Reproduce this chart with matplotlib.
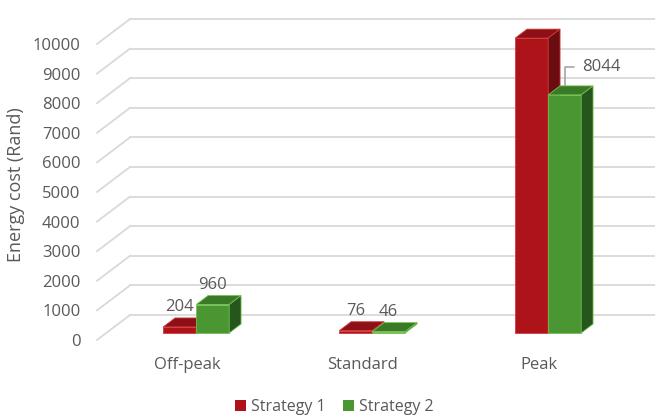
import numpy as np
import matplotlib
matplotlib.use('Agg')
import matplotlib.pyplot as plt
from matplotlib.patches import Polygon, Patch

plt.rcParams['font.family'] = ['Open Sans', 'DejaVu Sans']

# data
categories = ['Off-peak', 'Standard', 'Peak']
strategy1 = [204, 76, 9962]
strategy2 = [960, 46, 8044]
series_names = ['Strategy 1', 'Strategy 2']
yticks = list(range(0, 10001, 1000))

txt_col = '#595959'
grid_col = '#d9d9d9'
# front, top, side, edge
red = ('#ad1319', '#8c1015', '#6b0c10', '#d23a3f')
green = ('#4a9632', '#3a7a27', '#25561c', '#72c24f')

fig = plt.figure(figsize=(6.55, 4.18), dpi=100)
ax = fig.add_axes([97 / 655, 78 / 418, 525 / 655, 296 / 418])
ax.set_xlim(-0.511, 2.472)
ax.set_ylim(0, 10000)

# fake 3d depth, in data units
DX, DY = 0.1875, 845.0
f1, f2 = 0.28, 0.64
w = 0.1875

x0, x1 = ax.get_xlim()
# walls / gridlines
for t in yticks:
    ax.plot([x0, x0 + DX], [t, t + DY], color=grid_col, lw=1.3, clip_on=False, zorder=0)
    ax.plot([x0 + DX, x1 + DX], [t + DY, t + DY], color=grid_col, lw=1.3, clip_on=False, zorder=0)


def draw_bar(xl, v, cols, z):
    front, top, side, edge = cols
    b = f1 * DY
    d = f2 - f1
    xr = xl + w
    ax.bar(xl, v, width=w, bottom=b, align='edge', color=front, edgecolor=edge,
           lw=0.6, zorder=z, clip_on=False)
    ax.add_patch(Polygon([(xl, b + v), (xr, b + v), (xr + d * DX, b + v + d * DY),
                          (xl + d * DX, b + v + d * DY)], closed=True,
                         facecolor=top, edgecolor=edge, lw=0.6, zorder=z, clip_on=False))
    ax.add_patch(Polygon([(xr, b), (xr, b + v), (xr + d * DX, b + v + d * DY),
                          (xr + d * DX, b + d * DY)], closed=True,
                         facecolor=side, edgecolor=edge, lw=0.6, zorder=z, clip_on=False))
    return xl + w / 2, b + v + d * DY


xs = np.arange(len(categories))
for i in xs:
    c = i + f1 * DX
    cx, ty = draw_bar(c - w, strategy1[i], red, 2 + i * 2)
    ax.annotate(str(strategy1[i]), (cx, ty), xytext=(0, 2), textcoords='offset points',
                ha='center', va='bottom', fontsize=12, color=txt_col)
    cx2, ty2 = draw_bar(c, strategy2[i], green, 3 + i * 2)
    if i == 2:
        # label with leader line
        ax.annotate(str(strategy2[i]), (cx2, f1 * DY + strategy2[i]), xytext=(37, 28),
                    textcoords='offset pixels', ha='center', va='center', fontsize=12,
                    color=txt_col,
                    arrowprops=dict(arrowstyle='-', color='#a6a6a6', lw=1.2,
                                    connectionstyle='angle,angleA=0,angleB=90,rad=0',
                                    shrinkA=4, shrinkB=0))
    else:
        ax.annotate(str(strategy2[i]), (cx2, ty2), xytext=(0, 2), textcoords='offset points',
                    ha='center', va='bottom', fontsize=12, color=txt_col)

ax.set_yticks(yticks)
ax.set_xticks(xs)
ax.set_xticklabels(categories)
ax.tick_params(axis='both', length=0, labelsize=12, labelcolor=txt_col)
ax.tick_params(axis='y', pad=12)
ax.tick_params(axis='x', pad=12)
for s in ax.spines.values():
    s.set_visible(False)
ax.set_ylabel('Energy cost (Rand)', fontsize=13, color=txt_col)
ax.yaxis.set_label_coords(-0.137, 0.524)

handles = [Patch(facecolor=red[0]), Patch(facecolor=green[0])]
fig.legend(handles, series_names, loc='center', bbox_to_anchor=(334 / 655, 11 / 418),
           ncol=2, frameon=False, fontsize=11.5, labelcolor=txt_col,
           handlelength=0.7, handleheight=0.7, handletextpad=0.3, columnspacing=1.1)

fig.savefig('out.png', dpi=100)
